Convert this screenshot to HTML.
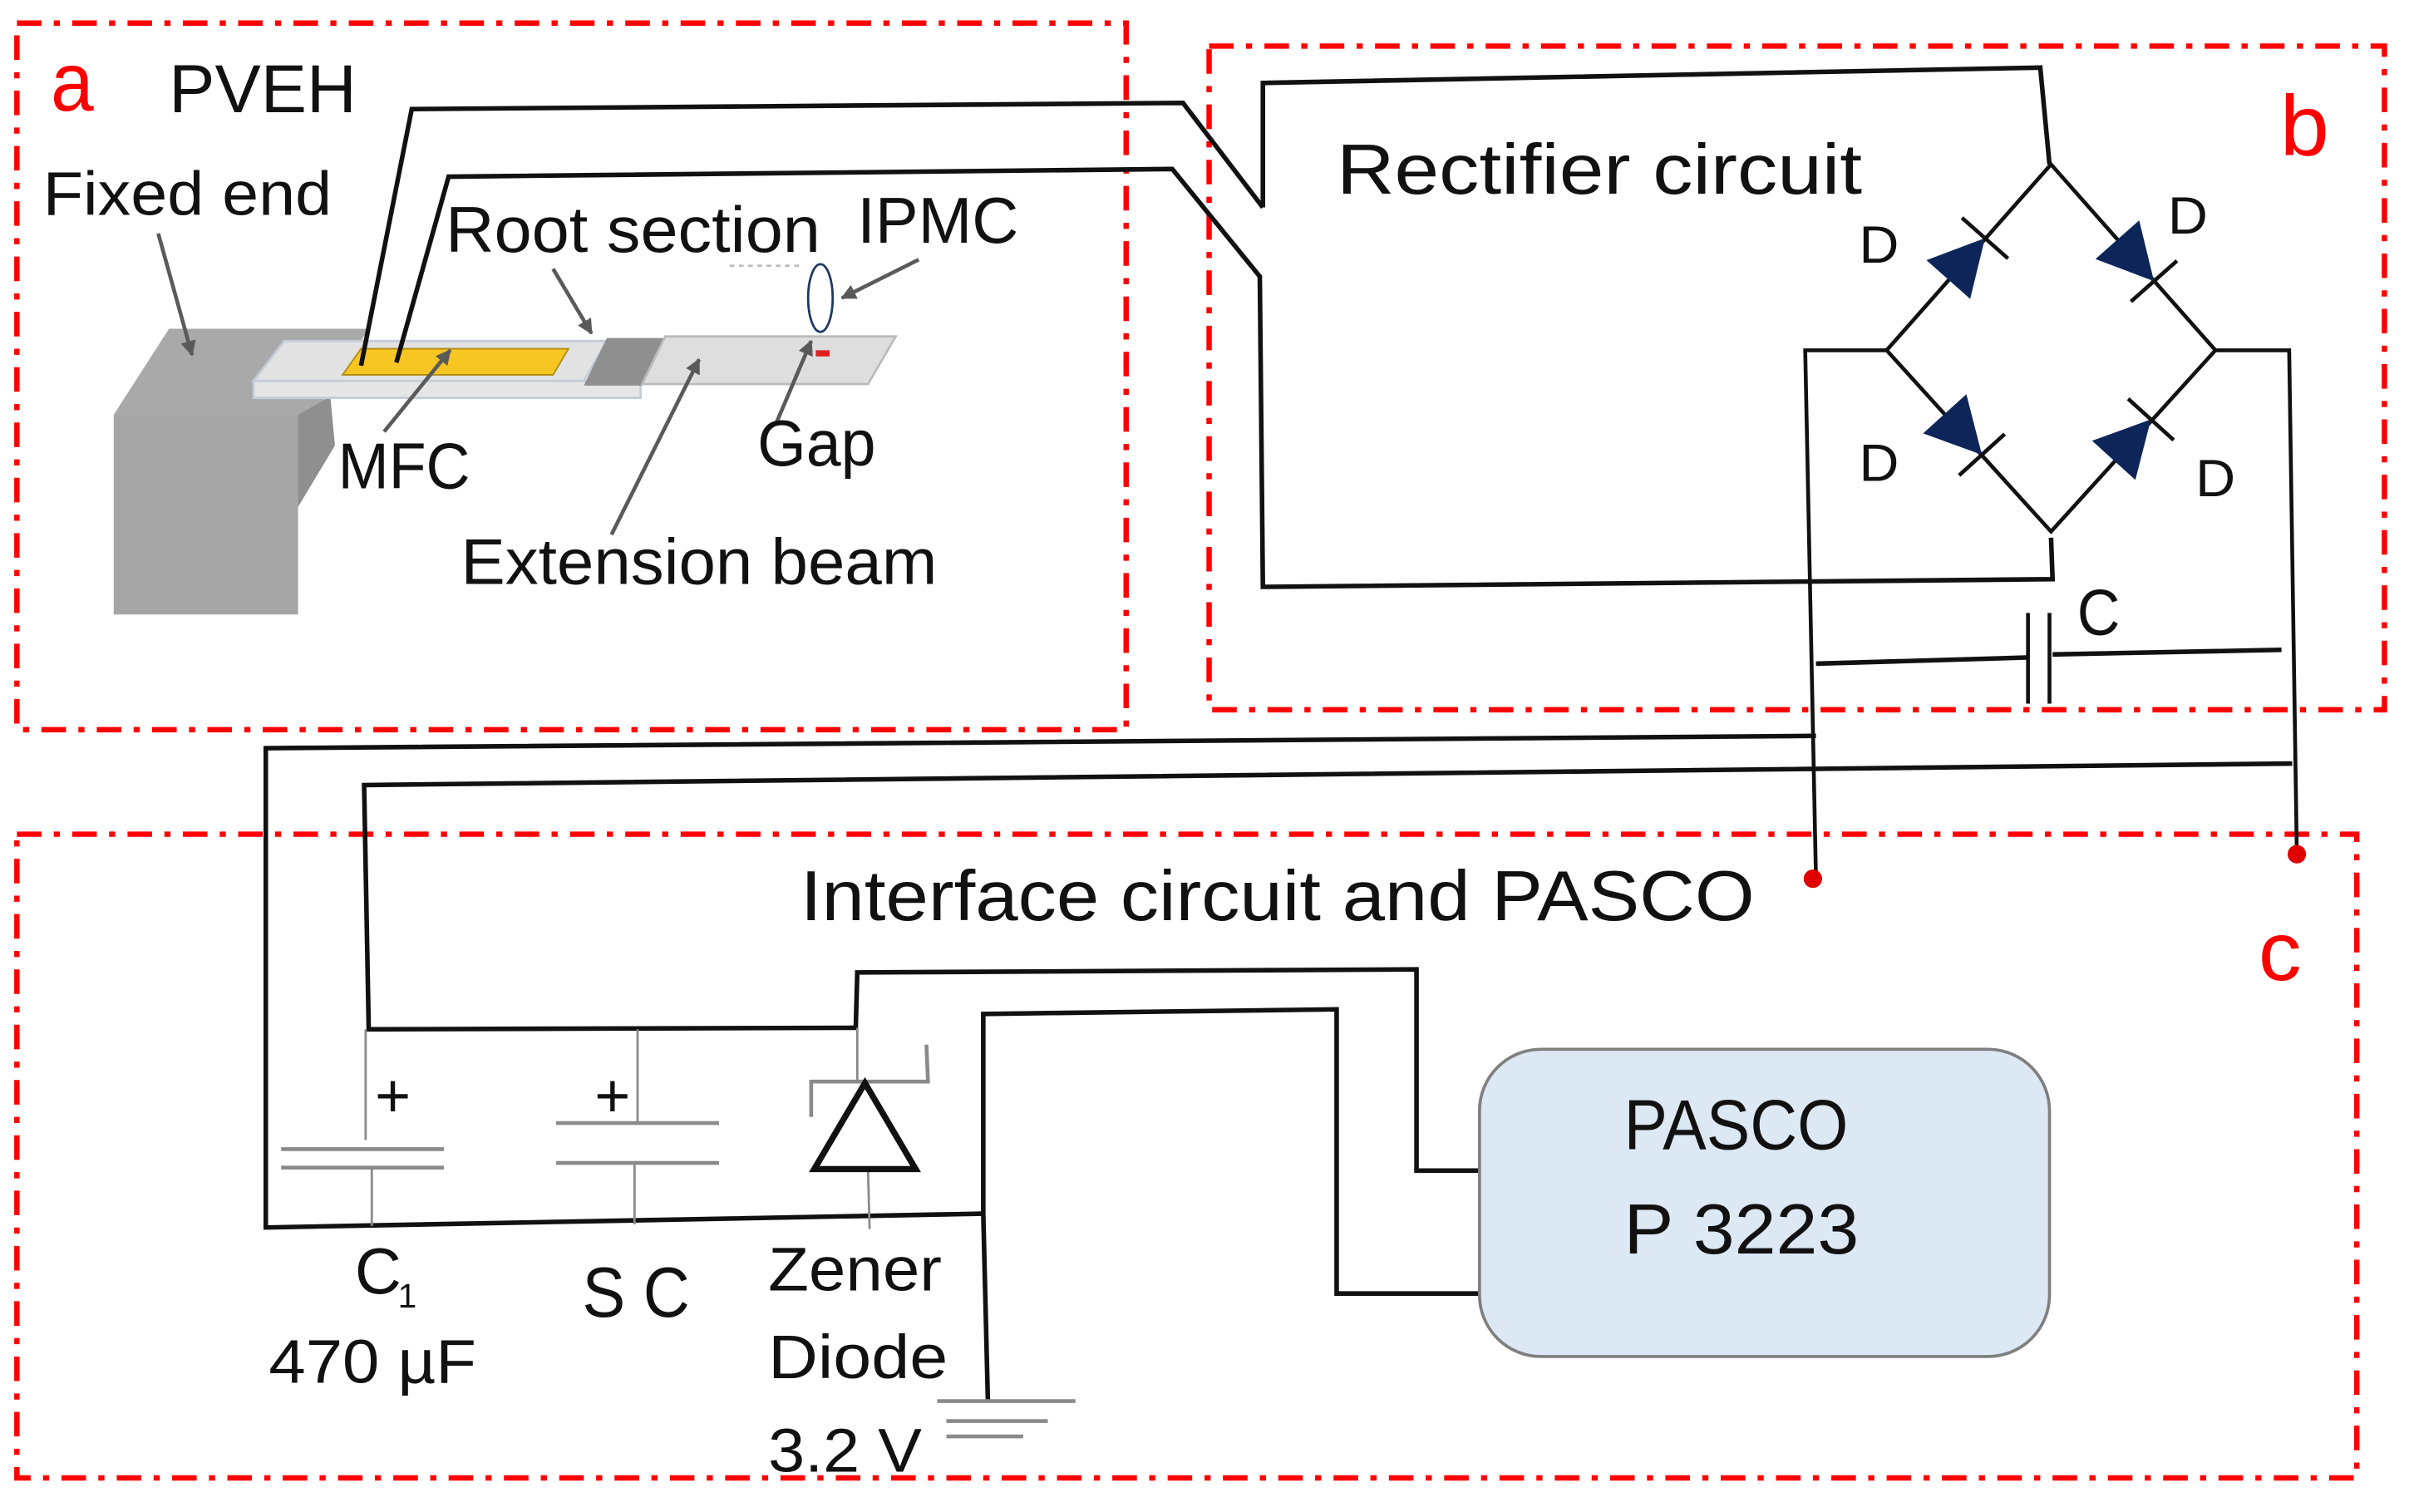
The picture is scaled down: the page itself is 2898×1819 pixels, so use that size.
<!DOCTYPE html>
<html><head><meta charset="utf-8"><style>
html,body{margin:0;padding:0;background:#fff;}
svg{display:block;}
text{font-family:"Liberation Sans",sans-serif;fill:#111;}
</style></head><body>
<svg width="2898" height="1819" viewBox="0 0 1568 984.2" preserveAspectRatio="none" xmlns="http://www.w3.org/2000/svg">
<defs>
<marker id="ar" viewBox="0 0 10 10" refX="9" refY="5" markerWidth="4" markerHeight="4" orient="auto"><path d="M0,0 L10,5 L0,10 z" fill="#5a5a5a"/></marker>
</defs>
<rect width="1568" height="984.2" fill="#fff"/>
<!-- red dash-dot boxes -->
<g fill="none" stroke="#ff0000" stroke-width="3.5" stroke-dasharray="16 8 4 8">
<rect x="11" y="15" width="722" height="460"/>
<rect x="787" y="30" width="765" height="432"/>
<rect x="11" y="543" width="1523" height="419"/>
</g>
<!-- fixed block -->
<polygon points="74,270 110,214 240,214 205,270" fill="#a9a9a9"/>
<polygon points="194,270 215,258 218,290 194,330" fill="#8f8f8f"/>
<rect x="74" y="270" width="120" height="130" fill="#a6a6a6"/>
<!-- root beam -->
<polygon points="185,222 395,222 380,248 165,248" fill="#e2e2e2" stroke="#c4ccd6" stroke-width="1.5"/>
<rect x="165" y="248" width="252" height="11" fill="#e6e6e6" stroke="#c4ccd6" stroke-width="1.5"/>
<polygon points="235,227 370,227 360,244 223,244" fill="#f7c623" stroke="#b08a10" stroke-width="1"/>
<polygon points="395,220 433,220 418,251 380,251" fill="#8f8f8f"/>
<polygon points="433,219 583,219 565,250 418,250" fill="#dedede" stroke="#bbbbbb" stroke-width="1.5"/>
<ellipse cx="534" cy="194" rx="8" ry="22" fill="none" stroke="#1f3864" stroke-width="1.5"/>
<rect x="531" y="228" width="9" height="4" fill="#e02020"/>
<line x1="475" y1="173" x2="522" y2="173" stroke="#bbb" stroke-width="1.5" stroke-dasharray="3 3"/>
<!-- gray arrows -->
<g stroke="#5a5a5a" stroke-width="2.5" marker-end="url(#ar)">
<line x1="103" y1="152" x2="125" y2="231"/>
<line x1="360" y1="175" x2="385" y2="217"/>
<line x1="598" y1="169" x2="548" y2="194"/>
<line x1="250" y1="281" x2="293" y2="228"/>
<line x1="505" y1="276" x2="528" y2="222"/>
<line x1="398" y1="348" x2="455" y2="234"/>
</g>
<!-- wires -->
<g fill="none" stroke="#111" stroke-width="3" stroke-linejoin="miter">
<polyline points="235,238 268,71 770,67 822,135"/>
<polyline points="822,135 822,54 1328,44 1334,107"/>
<polyline points="258,236 292,115 763,110 820,180 822,382 1336,377 1335,350"/>
<polygon points="1335,107 1442,228 1335,346 1228,228" stroke-width="2.5"/>
<polyline points="1228,228 1175,228 1182,572" stroke-width="2.5"/>
<polyline points="1442,228 1490,228 1495,556" stroke-width="2.5"/>
<polyline points="1182,432 1319,428"/>
<polyline points="1336,426 1485,423"/>
<line x1="1320" y1="399" x2="1320" y2="458" stroke-width="2.5"/>
<line x1="1334" y1="399" x2="1334" y2="458" stroke-width="2.5"/>
<polyline points="1182,479 173,487 173,799 640,790"/>
<polyline points="1492,497 237,511 240,670 557,669 558,633 922,631 922,762 963,762"/>
<polyline points="640,790 640,660 870,657 870,842 963,842"/>
<line x1="640" y1="790" x2="643" y2="912"/>
</g>
<!-- diodes -->
<g fill="#0d2559" stroke="#111" stroke-width="2.5">
<g transform="translate(1292,155) rotate(-48.5)"><polygon points="0,0 -36,-19 -36,19" stroke="none"/><line x1="0" y1="-20" x2="0" y2="20"/></g>
<g transform="translate(1402,183) rotate(48.5)"><polygon points="0,0 -36,-19 -36,19" stroke="none"/><line x1="0" y1="-20" x2="0" y2="20"/></g>
<g transform="translate(1290,296) rotate(47.8)"><polygon points="0,0 -36,-19 -36,19" stroke="none"/><line x1="0" y1="-20" x2="0" y2="20"/></g>
<g transform="translate(1400,273) rotate(-47.8)"><polygon points="0,0 -36,-19 -36,19" stroke="none"/><line x1="0" y1="-20" x2="0" y2="20"/></g>
</g>
<circle cx="1180" cy="572" r="6" fill="#e00000"/>
<circle cx="1495" cy="556" r="6" fill="#e00000"/>
<!-- interface components -->
<g stroke="#8a8a8a" stroke-width="2.5" fill="none">
<line x1="183" y1="748" x2="289" y2="748"/><line x1="183" y1="760" x2="289" y2="760"/>
<line x1="238" y1="670" x2="238" y2="742" stroke-width="1.5"/><line x1="242" y1="760" x2="242" y2="798" stroke-width="1.5"/>
<line x1="362" y1="731" x2="468" y2="731"/><line x1="362" y1="757" x2="468" y2="757"/>
<line x1="415" y1="670" x2="415" y2="731" stroke-width="1.5"/><line x1="413" y1="757" x2="413" y2="797" stroke-width="1.5"/>
<polyline points="528,727 528,704 604,704 603,680"/>
<line x1="558" y1="669" x2="558" y2="704" stroke-width="1.5"/>
<line x1="565" y1="761" x2="566" y2="800" stroke-width="1.5"/>
<line x1="610" y1="912" x2="700" y2="912"/><line x1="616" y1="925" x2="682" y2="925"/><line x1="616" y1="935" x2="666" y2="935"/>
</g>
<polygon points="563,705 530,761 596,761" fill="none" stroke="#111" stroke-width="4"/>
<rect x="963" y="683" width="371" height="200" rx="40" ry="40" fill="#dde8f5" stroke="#7f7f7f" stroke-width="2"/>
<!-- text -->
<text x="33" y="72" font-size="54" style="fill:#ff0000" textLength="28" lengthAdjust="spacingAndGlyphs">a</text>
<text x="110" y="73" font-size="44" textLength="122" lengthAdjust="spacingAndGlyphs">PVEH</text>
<text x="28" y="140" font-size="40" textLength="188" lengthAdjust="spacingAndGlyphs">Fixed end</text>
<text x="290" y="164" font-size="42" textLength="244" lengthAdjust="spacingAndGlyphs">Root section</text>
<text x="558" y="158" font-size="42" textLength="105" lengthAdjust="spacingAndGlyphs">IPMC</text>
<text x="220" y="318" font-size="42" textLength="86" lengthAdjust="spacingAndGlyphs">MFC</text>
<text x="493" y="303" font-size="42" textLength="77" lengthAdjust="spacingAndGlyphs">Gap</text>
<text x="300" y="380" font-size="42" textLength="310" lengthAdjust="spacingAndGlyphs">Extension beam</text>
<text x="870" y="126" font-size="46" textLength="342" lengthAdjust="spacingAndGlyphs">Rectifier  circuit</text>
<text x="1484" y="101" font-size="56" style="fill:#ff0000" textLength="32" lengthAdjust="spacingAndGlyphs">b</text>
<text x="1210" y="171" font-size="34" textLength="26" lengthAdjust="spacingAndGlyphs">D</text>
<text x="1411" y="152" font-size="34" textLength="26" lengthAdjust="spacingAndGlyphs">D</text>
<text x="1210" y="313" font-size="34" textLength="26" lengthAdjust="spacingAndGlyphs">D</text>
<text x="1429" y="323" font-size="34" textLength="26" lengthAdjust="spacingAndGlyphs">D</text>
<text x="1352" y="413" font-size="42" textLength="28" lengthAdjust="spacingAndGlyphs">C</text>
<text x="521" y="599" font-size="46" textLength="621" lengthAdjust="spacingAndGlyphs">Interface circuit and PASCO</text>
<text x="1470" y="638" font-size="54" style="fill:#ff0000" textLength="28" lengthAdjust="spacingAndGlyphs">c</text>
<text x="1057" y="748" font-size="46" textLength="146" lengthAdjust="spacingAndGlyphs">PASCO</text>
<text x="1057" y="816" font-size="46" textLength="153" lengthAdjust="spacingAndGlyphs">P 3223</text>
<text x="244" y="727" font-size="40">+</text>
<text x="387" y="727" font-size="40">+</text>
<text x="231" y="842" font-size="42">C</text><text x="259" y="851" font-size="22">1</text>
<text x="175" y="900" font-size="40" textLength="135" lengthAdjust="spacingAndGlyphs">470 µF</text>
<text x="379" y="857" font-size="46" textLength="70" lengthAdjust="spacingAndGlyphs">S C</text>
<text x="500" y="840" font-size="40" textLength="113" lengthAdjust="spacingAndGlyphs">Zener</text>
<text x="500" y="897" font-size="40" textLength="117" lengthAdjust="spacingAndGlyphs">Diode</text>
<text x="500" y="958" font-size="40" textLength="100" lengthAdjust="spacingAndGlyphs">3.2 V</text>
</svg>
</body></html>
